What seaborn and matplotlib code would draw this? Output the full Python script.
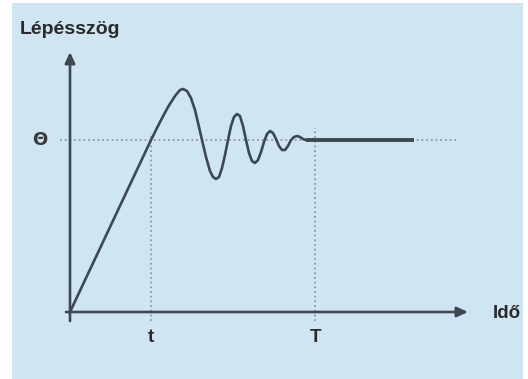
import numpy as np
import pandas as pd
import matplotlib
matplotlib.use('Agg')
import matplotlib.pyplot as plt
import seaborn as sns

# lépésszög válasz (idő, szög)
ido = [0.0, 8.1, 9.0, 9.8, 10.5, 11.0, 11.3, 11.7, 12.1, 12.5, 12.9, 13.2, 13.6, 14.0,
       14.3, 14.6, 14.9, 15.2, 15.5, 15.8, 16.1, 16.4, 16.7, 17.0, 17.3, 17.6, 17.9,
       18.2, 18.5, 18.8, 19.1, 19.4, 19.7, 20.0, 20.3, 20.6, 20.9, 21.2, 21.5, 21.8,
       22.1, 22.4, 22.7, 23.0, 23.3, 23.6]
szog = [0.0, 17.2, 19.0, 20.5, 21.6, 22.2, 22.3, 22.1, 21.4, 20.2, 18.5, 17.2, 15.5, 14.1,
        13.5, 13.3, 13.5, 14.4, 15.7, 17.2, 18.6, 19.5, 19.8, 19.6, 18.6, 17.2, 15.9,
        15.1, 14.9, 15.2, 16.0, 17.0, 17.8, 18.1, 17.9, 17.3, 16.6, 16.2, 16.2, 16.6,
        17.2, 17.5, 17.6, 17.5, 17.3, 17.2]
# beállt szakasz
ido_allando = [23.6, 34.4]
szog_allando = [17.2, 17.2]

theta = 17.2
x_jelek = [8.1, 24.5]
x_jel_feliratok = ['t', 'T']
x_cim = 'Idő'
y_cim = 'Lépésszög'
theta_felirat = 'Θ'

df = pd.DataFrame({'ido': ido, 'szog': szog})
df_all = pd.DataFrame({'ido': ido_allando, 'szog': szog_allando})

sns.set_style('white')
plt.rcParams['font.family'] = ['Liberation Sans', 'DejaVu Sans']

hatter = '#cfe5f1'
sotet = '#3d4850'
pontozott = '#8d9ba3'
szoveg = '#2a2a2a'

fig = plt.figure(figsize=(5.28, 3.79), dpi=100)
fig.patch.set_facecolor('white')
ax = fig.add_axes([12 / 528, 0, 511 / 528, 376 / 379])
ax.set_facecolor(hatter)
ax.set_xlim(-5.8, 45.3)
ax.set_ylim(-6.7, 30.9)
ax.axis('off')
ax.add_patch(plt.Rectangle((0, 0), 1, 1, transform=ax.transAxes, color=hatter, zorder=0))

# pontozott segédvonalak
dot = (0, (1, 1.6))
ax.plot([-1.0, 38.6], [theta, theta], color=pontozott, lw=1.3, ls=dot, zorder=1)
ax.plot([x_jelek[0], x_jelek[0]], [-0.9, 17.9], color=pontozott, lw=1.3, ls=dot, zorder=1)
ax.plot([x_jelek[1], x_jelek[1]], [-0.9, 18.4], color=pontozott, lw=1.3, ls=dot, zorder=1)

# tengelyek nyíllal
nyil = dict(arrowstyle='-|>,head_length=0.65,head_width=0.3', color=sotet, lw=1.9,
            shrinkA=0, shrinkB=0, mutation_scale=10)
ax.annotate('', xy=(0, 26.0), xytext=(0, -0.9), arrowprops=nyil, zorder=3)
ax.annotate('', xy=(39.8, 0), xytext=(-0.4, 0), arrowprops=nyil, zorder=3)

# görbe
sns.lineplot(data=df, x='ido', y='szog', sort=False, estimator=None, color=sotet,
             lw=1.9, ax=ax, zorder=4)
sns.lineplot(data=df_all, x='ido', y='szog', sort=False, estimator=None, color=sotet,
             lw=2.8, ax=ax, zorder=4, solid_capstyle='butt')
ax.axis('off')

# feliratok
ax.text(-5.0, 28.2, y_cim, fontsize=14, fontweight='bold', color=szoveg, va='center', ha='left')
ax.text(42.3, -0.1, x_cim, fontsize=13.5, fontweight='bold', color=szoveg, va='center', ha='left')
ax.text(-3.0, theta, theta_felirat, fontsize=13, fontweight='bold', color='#3a3a3a',
        va='center', ha='center', family=['DejaVu Sans'])
for x, lab in zip(x_jelek, x_jel_feliratok):
    ax.text(x, -2.5, lab, fontsize=13.5, fontweight='bold', color=szoveg, va='center', ha='center')

fig.savefig('out.png', dpi=100, facecolor='white')
